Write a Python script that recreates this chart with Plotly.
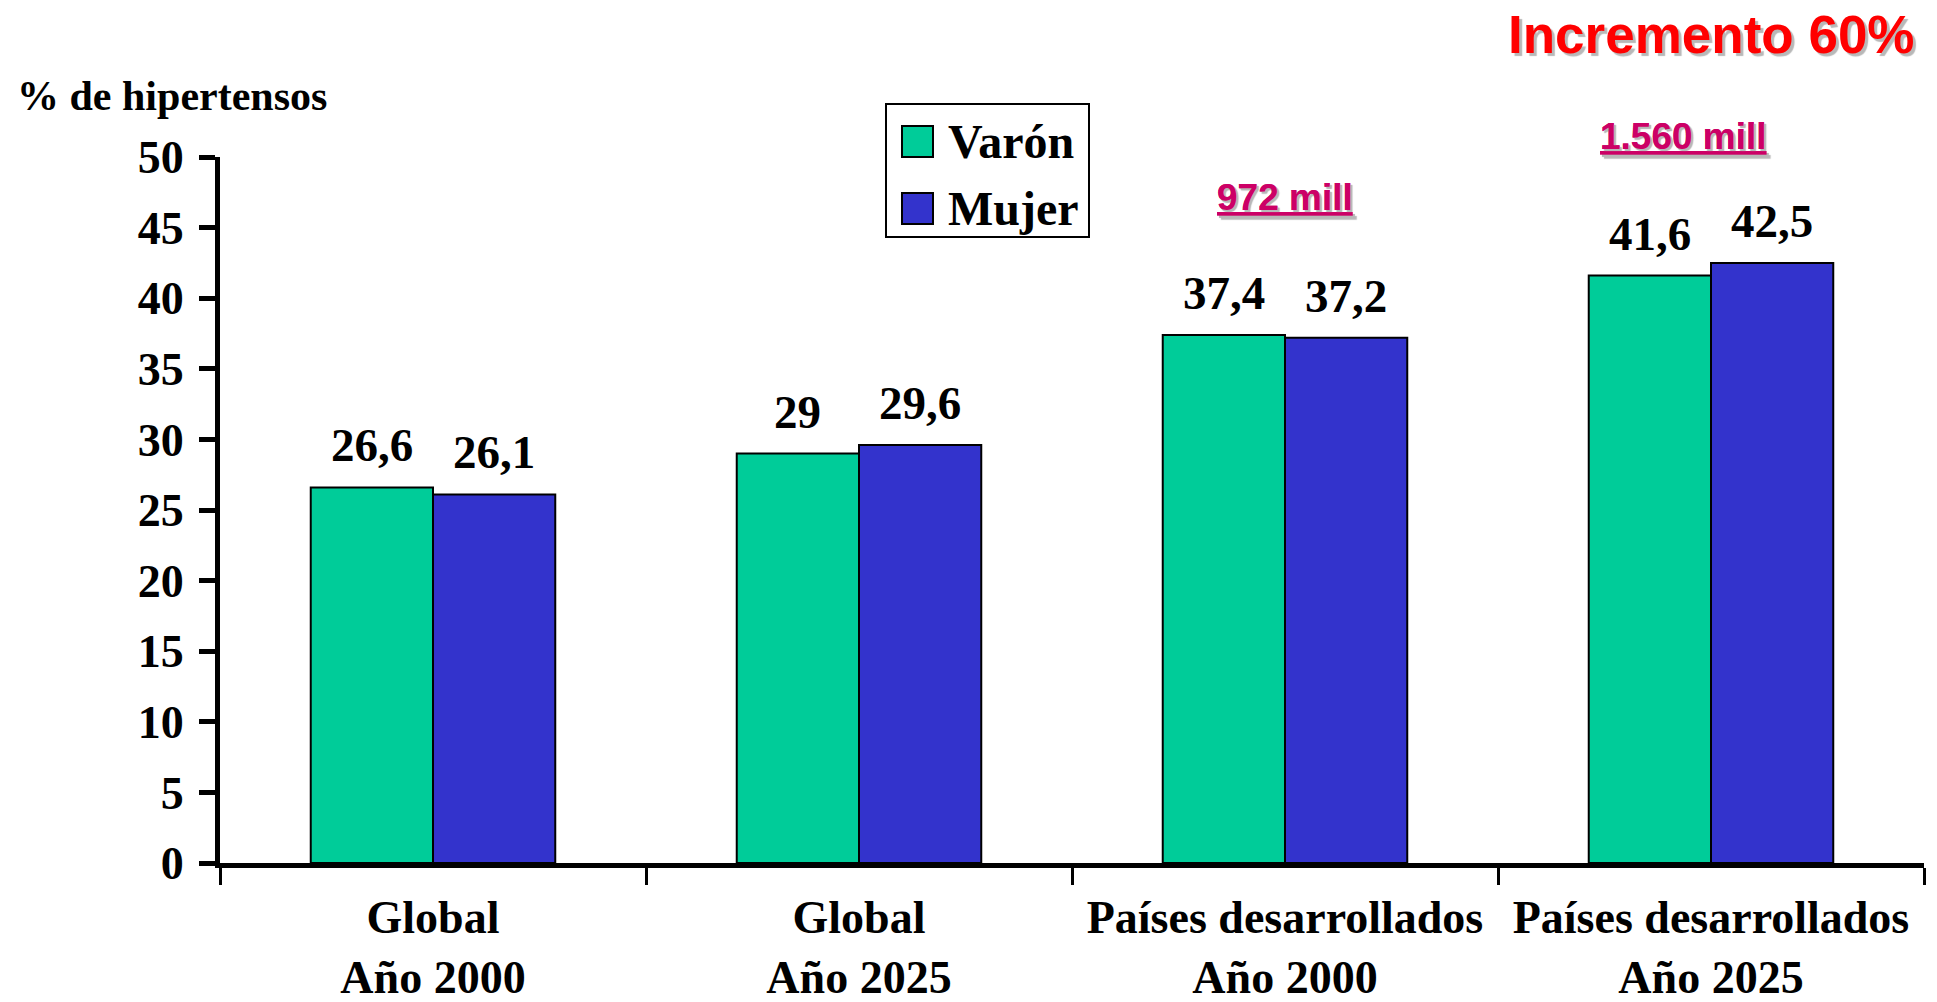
import plotly.graph_objects as go

# ---- data ----
categories = ["Global<br>Año 2000", "Global<br>Año 2025",
              "Países desarrollados<br>Año 2000", "Países desarrollados<br>Año 2025"]
series_names = ["Varón", "Mujer"]
varon = [26.6, 29, 37.4, 41.6]
mujer = [26.1, 29.6, 37.2, 42.5]
y_tick_vals = [0, 5, 10, 15, 20, 25, 30, 35, 40, 45, 50]
series_colors = ["#00CC99", "#3333CC"]
y_title = "% de hipertensos"
headline = "Incremento 60%"
note_2000 = "972 mill"
note_2025 = "1.560 mill"

# ---- geometry (pixels) ----
W, H = 1937, 1002
L, R, T, B = 220, 13, 157, 139
PW, PH = W - L - R, H - T - B
BARGAP = 0.426


def px(xp):
    return (xp - L) / PW


def py(yp):
    return (H - B - yp) / PH


SERIF = "Liberation Serif"
SANS = "Liberation Sans"

fig = go.Figure()
for name, vals, col in zip(series_names, [varon, mujer], series_colors):
    fig.add_trace(go.Bar(
        x=categories, y=vals, name=name,
        marker=dict(color=col, line=dict(color="black", width=2)),
        showlegend=False, hoverinfo="x+y+name",
    ))


def fmt(v):
    return str(int(v)) if float(v).is_integer() else str(v).replace(".", ",")


annotations = []
half_bar = (1 - BARGAP) / 4  # offset of each bar centre, in category units
for vals, sign in [(varon, -1), (mujer, 1)]:
    for i, v in enumerate(vals):
        annotations.append(dict(
            x=i + sign * half_bar, y=v, xref="x", yref="y", text=fmt(v), showarrow=False,
            yshift=14, yanchor="bottom", xanchor="center",
            font=dict(family=SERIF, size=47, color="black", weight="bold"),
        ))

# y-axis title
annotations.append(dict(
    x=px(15), y=py(96), xref="paper", yref="paper", text=y_title,
    showarrow=False, xanchor="left", yanchor="middle",
    font=dict(family=SERIF, size=42, color="black", weight="bold"),
))
# headline
annotations.append(dict(
    x=px(1711), y=py(34), xref="paper", yref="paper", text=headline,
    showarrow=False, xanchor="center", yanchor="middle",
    font=dict(family=SANS, size=53, color="#FF0000", weight="bold",
              shadow="3px 3px 1px #B8B8B8"),
))
# notes
for txt, xc, yc in [(note_2000, 1285, 197), (note_2025, 1683, 137)]:
    annotations.append(dict(
        x=px(xc), y=py(yc), xref="paper", yref="paper", text="<u>" + txt + "</u>",
        showarrow=False, xanchor="center", yanchor="middle",
        font=dict(family=SANS, size=37, color="#CC0066", weight="bold",
                  shadow="2px 2px 1px #B8B8B8"),
    ))

# manual legend (large swatches)
shapes = [dict(type="rect", xref="paper", yref="paper",
               x0=px(886), x1=px(1089), y0=py(237), y1=py(104),
               line=dict(color="black", width=2), fillcolor="white", layer="above")]
for i, (name, col) in enumerate(zip(series_names, series_colors)):
    top = 126 + i * 67
    shapes.append(dict(type="rect", xref="paper", yref="paper",
                       x0=px(902), x1=px(933), y0=py(top + 31), y1=py(top),
                       line=dict(color="black", width=2), fillcolor=col, layer="above"))
    annotations.append(dict(
        x=px(946), y=py(top + 16), xref="paper", yref="paper", text=name,
        showarrow=False, xanchor="left", yanchor="middle",
        font=dict(family=SERIF, size=48, color="black", weight="bold"),
    ))

fig.update_layout(
    width=W, height=H,
    margin=dict(l=L, r=R, t=T, b=B, pad=0),
    paper_bgcolor="white", plot_bgcolor="white",
    barmode="group", bargap=BARGAP, bargroupgap=0,
    annotations=annotations, shapes=shapes,
    showlegend=False,
)
fig.update_xaxes(
    type="category", tickson="boundaries", ticks="outside", ticklen=17, tickwidth=3,
    tickcolor="black", showline=True, linecolor="black", linewidth=5,
    showgrid=False, zeroline=False, ticklabelstandoff=10, automargin=False,
    tickfont=dict(family=SERIF, size=46, color="black", weight="bold"),
)
fig.update_yaxes(
    range=[0, 50], tickvals=y_tick_vals, ticks="outside", ticklen=16, tickwidth=5,
    tickcolor="black", showline=True, linecolor="black", linewidth=5,
    showgrid=False, zeroline=False, ticklabelstandoff=6, automargin=False,
    tickfont=dict(family=SERIF, size=46, color="black", weight="bold"),
)

fig.write_html("out.html", config={"displayModeBar": False},
               post_script="document.body.style.margin='0';document.body.style.overflow='hidden';")
